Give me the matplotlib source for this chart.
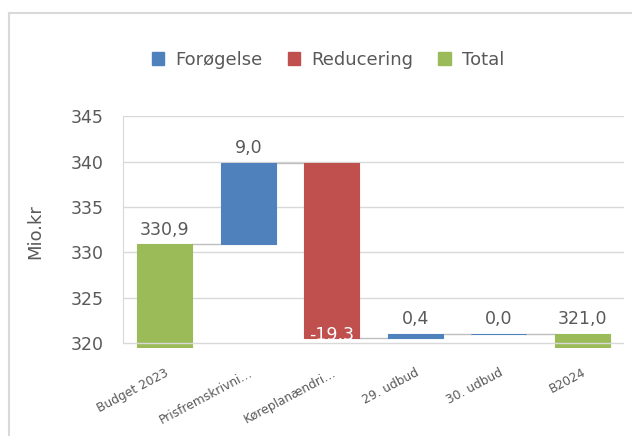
import matplotlib
matplotlib.use("Agg")
import matplotlib.pyplot as plt
from matplotlib.lines import Line2D
from matplotlib.patches import Patch

categories = ["Budget 2023", "Prisfremskrivni…", "Køreplanændri…", "29. udbud", "30. udbud", "B2024"]
values = [330.9, 9.0, -19.3, 0.4, 0.0, 321.0]
kinds = ["Total", "Forøgelse", "Reducering", "Forøgelse", "Forøgelse", "Total"]
yticks = [320, 325, 330, 335, 340, 345]
ylabel = "Mio.kr"

colors = {"Forøgelse": "#4F81BD", "Reducering": "#C0504D", "Total": "#9BBB59"}
txt = "#595959"
grid = "#D9D9D9"

plt.rcParams['font.family'] = ['DejaVu Sans']

fig = plt.figure(figsize=(6.32, 4.36), dpi=100)
ax = fig.add_axes([123 / 632, (436 - 348) / 436, 501 / 632, (348 - 116) / 436])

ymin, ymax = 319.45, 345.05
width = 0.66

# running waterfall
level = 0.0
segs = []
for i, (v, k) in enumerate(zip(values, kinds)):
    if k == "Total":
        bottom, top = 0.0, v
        level = v
    else:
        start = level
        level = level + v
        bottom, top = min(start, level), max(start, level)
    segs.append((bottom, top, level))
    ax.bar(i, top - bottom, bottom=bottom, width=width, color=colors[k],
           edgecolor=colors[k], linewidth=0.8, zorder=2)

# connectors
for i in range(len(values) - 1):
    lvl = segs[i][2]
    ax.plot([i + width / 2, i + 1 - width / 2], [lvl, lvl], color="#BFBFBF",
            linewidth=1.0, zorder=1.5)

# labels
for i, (v, k) in enumerate(zip(values, kinds)):
    bottom, top, lvl = segs[i]
    lab = f"{v:.1f}".replace(".", ",")
    if k == "Reducering":
        ax.annotate(lab, (i, bottom), xytext=(0, -4.5), textcoords="offset points",
                    ha="center", va="bottom", color="white", fontsize=12.5, zorder=3)
    else:
        ax.annotate(lab, (i, top), xytext=(0, 4), textcoords="offset points",
                    ha="center", va="bottom", color=txt, fontsize=12.5, zorder=3)

# gridlines
for y in yticks:
    ax.axhline(y, color=grid, linewidth=1.0, zorder=2.5 if y == yticks[0] else 0.5)

ax.set_ylim(ymin, ymax)
ax.set_xlim(-0.5, len(values) - 0.5)
ax.set_yticks(yticks)
ax.set_yticklabels([str(t) for t in yticks], fontsize=12.5, color=txt)
ax.set_xticks(range(len(categories)))
ax.set_xticklabels(categories, rotation=28, ha="right", rotation_mode="anchor",
                   fontsize=8.8, color=txt)
ax.tick_params(axis="both", length=0)
ax.tick_params(axis="x", pad=13)
ax.tick_params(axis="y", pad=14)
for s in ["top", "right", "bottom"]:
    ax.spines[s].set_visible(False)
ax.spines["left"].set_color(grid)
ax.spines["left"].set_bounds(320, 345)
ax.set_ylabel(ylabel, fontsize=13, color=txt)
ax.yaxis.set_label_coords(-0.158, 0.5)

handles = [Patch(facecolor=colors[k], edgecolor=colors[k]) for k in ["Forøgelse", "Reducering", "Total"]]
fig.legend(handles, ["Forøgelse", "Reducering", "Total"], loc="center",
           bbox_to_anchor=(328 / 632, 1 - 60 / 436), ncol=3, frameon=False,
           fontsize=13, labelcolor=txt, handlelength=0.7, handleheight=0.7,
           handletextpad=0.6, columnspacing=1.4)

# outer chart border (partially visible)
fig.add_artist(Line2D([9 / 632, 9 / 632], [0, 1 - 13 / 436], color=grid, linewidth=1.5,
                      transform=fig.transFigure))
fig.add_artist(Line2D([9 / 632, 1], [1 - 13 / 436, 1 - 13 / 436], color=grid, linewidth=1.5,
                      transform=fig.transFigure))

fig.savefig("out.png", dpi=100)
